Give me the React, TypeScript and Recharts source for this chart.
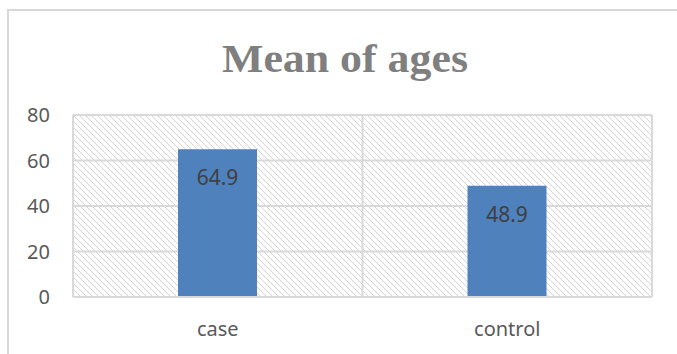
import React from 'react';
import { BarChart, Bar, XAxis, YAxis, CartesianGrid, LabelList } from 'recharts';

const categories = ['case', 'control'];
const meanAges = [64.9, 48.9];
const yTicks = [0, 20, 40, 60, 80];
const title = 'Mean of ages';

const data = categories.map((name, i) => ({ name, value: meanAges[i] }));

const W = 677;
const H = 354;

export default function App() {
  return (
    <div style={{ position: 'absolute', left: 0, top: 0, width: W, height: H, overflow: 'hidden', background: '#fff' }}>
      <div
        style={{
          position: 'absolute',
          left: 7,
          top: 9,
          width: 720,
          height: 420,
          border: '2px solid #d9d9d9',
          boxSizing: 'border-box',
        }}
      />
      <svg width={W} height={H} style={{ position: 'absolute', left: 0, top: 0 }}>
        <text
          x={345}
          y={72}
          textAnchor="middle"
          fontFamily="'Liberation Serif', serif"
          fontWeight="bold"
          fontSize={41}
          fill="#7f7f7f"
          textLength={246}
          lengthAdjust="spacingAndGlyphs"
        >
          {title}
        </text>
      </svg>
      <div style={{ position: 'absolute', left: 0, top: 0 }}>
        <BarChart
          width={W}
          height={H}
          data={data}
          margin={{ top: 115, right: 25, bottom: 0, left: 0 }}
          barCategoryGap="0%"
        >
          <defs>
            <pattern id="hatch" width="6" height="6" patternUnits="userSpaceOnUse">
              <rect x="0" y="0" width="6" height="6" fill="#ffffff" />
              <rect x="0" y="0" width="1" height="1" fill="#d4d4d4" />
              <rect x="1" y="1" width="1" height="1" fill="#d4d4d4" />
              <rect x="2" y="2" width="1" height="1" fill="#d4d4d4" />
              <rect x="3" y="3" width="1" height="1" fill="#d4d4d4" />
              <rect x="4" y="4" width="1" height="1" fill="#d4d4d4" />
              <rect x="5" y="5" width="1" height="1" fill="#d4d4d4" />
            </pattern>
          </defs>
          <CartesianGrid
            fill="url(#hatch)"
            stroke="#d9d9d9"
            strokeWidth={2}
            verticalCoordinatesGenerator={({ offset }: any) => [
              offset.left,
              offset.left + offset.width / 2,
              offset.left + offset.width,
            ]}
          />
          <XAxis
            dataKey="name"
            height={57}
            tickLine={false}
            tickSize={0}
            tickMargin={25}
            axisLine={{ stroke: '#d9d9d9', strokeWidth: 2 }}
            tick={{ fill: '#595959', fontSize: 20, fontFamily: "'Noto Sans', sans-serif" }}
          />
          <YAxis
            domain={[0, 80]}
            ticks={yTicks}
            width={73}
            tickLine={false}
            tickSize={0}
            tickMargin={23}
            axisLine={false}
            tick={{ fill: '#595959', fontSize: 20, fontFamily: "'Noto Sans', sans-serif" }}
          />
          <Bar dataKey="value" fill="#4f81bd" barSize={79} isAnimationActive={false}>
            <LabelList
              dataKey="value"
              position="insideTop"
              offset={21}
              fill="#404040"
              fontSize={21}
              fontFamily="'Noto Sans', sans-serif"
            />
          </Bar>
        </BarChart>
      </div>
    </div>
  );
}
